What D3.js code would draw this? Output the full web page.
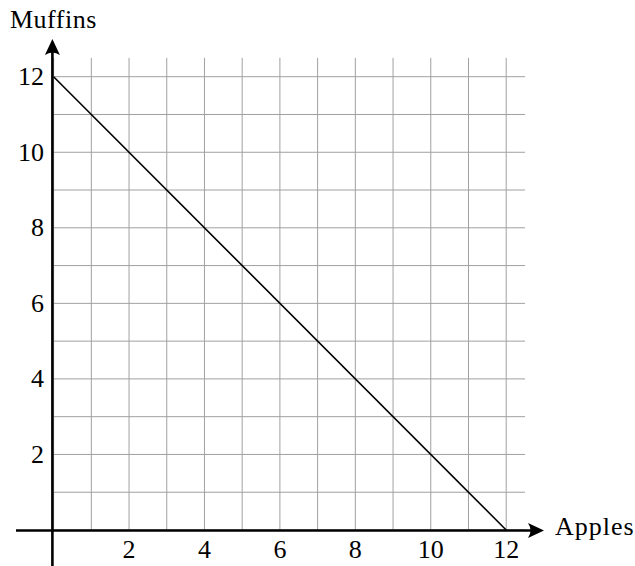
<!DOCTYPE html>
<html><head><meta charset="utf-8">
<script src="https://cdn.jsdelivr.net/npm/d3@7"></script>
<style>body{margin:0;background:#fff}svg{display:block}text{font-family:"Liberation Serif","DejaVu Serif",serif;fill:#000}</style>
</head><body>
<script>
const xTicks = [2, 4, 6, 8, 10, 12];
const yTicks = [2, 4, 6, 8, 10, 12];
const gridValues = [0,1,2,3,4,5,6,7,8,9,10,11,12];
const lineX = [0, 12];
const lineY = [12, 0];
const xLabel = "Apples", yLabel = "Muffins";

const W = 635, H = 566;
const svg = d3.select("body").append("svg").attr("width", W).attr("height", H);
const x = d3.scaleLinear().domain([0, 12]).range([53.6, 506.2]);
const y = d3.scaleLinear().domain([0, 12]).range([530, 76.7]);

const g = svg.append("g");
// grid
gridValues.forEach(v => {
  g.append("line").attr("x1", x(v)).attr("x2", x(v)).attr("y1", y(0)).attr("y2", y(12.5))
    .attr("stroke", "#a0a0a0").attr("stroke-width", 1);
  g.append("line").attr("y1", y(v)).attr("y2", y(v)).attr("x1", x(0)).attr("x2", x(12.5))
    .attr("stroke", "#a0a0a0").attr("stroke-width", 1);
});
// data line
const pts = lineX.map((d, i) => [d, lineY[i]]);
g.append("path").attr("d", d3.line().x(d => x(d[0])).y(d => y(d[1]))(pts))
  .attr("fill", "none").attr("stroke", "#000").attr("stroke-width", 1.6);

// axes
const x0 = x(0) - 1.2, y0 = y(0) + 0.5;
g.append("line").attr("x1", 16).attr("x2", 536).attr("y1", y0).attr("y2", y0)
  .attr("stroke", "#000").attr("stroke-width", 2.6);
g.append("line").attr("x1", x0).attr("x2", x0).attr("y1", 566).attr("y2", 48)
  .attr("stroke", "#000").attr("stroke-width", 2.6);
// arrowheads
function arrow(tx, ty, angle) {
  const p = "M0,0 L-16,-7.5 Q-11,0 -16,7.5 Z";
  g.append("path").attr("d", p).attr("fill", "#000")
    .attr("transform", `translate(${tx},${ty}) rotate(${angle})`);
}
arrow(544, y0, 0);
arrow(x0, 39, -90);

// tick labels
xTicks.forEach(v => {
  g.append("text").attr("x", x(v)).attr("y", 558).attr("text-anchor", "middle")
    .attr("font-size", 26).text(v);
});
yTicks.forEach(v => {
  g.append("text").attr("x", 44).attr("y", y(v) + 8.5).attr("text-anchor", "end")
    .attr("font-size", 26).text(v);
});
g.append("text").attr("x", 555).attr("y", 535).attr("font-size", 26)
  .attr("letter-spacing", 1).text(xLabel);
g.append("text").attr("x", 10).attr("y", 28).attr("font-size", 26)
  .attr("letter-spacing", 0.5).text(yLabel);
</script>
</body></html>
